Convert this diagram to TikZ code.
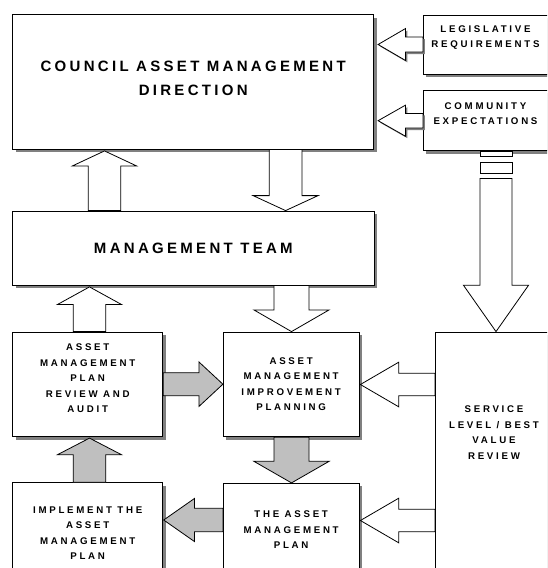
\documentclass[tikz,border=0pt]{standalone}
\usepackage{fontspec}
\newfontfamily\bigfont[LetterSpace=22]{Liberation Sans Bold}
\newfontfamily\smallfont[LetterSpace=28]{Liberation Sans Bold}
\usetikzlibrary{calc,shadows}

\tikzset{
  box/.style={draw=black, line width=0.8pt, fill=white, inner sep=0pt,
    drop shadow={shadow xshift=3pt, shadow yshift=-3pt, fill=black!50, opacity=1}},
  bigtext/.style={font=\bigfont\fontsize{15}{24}\selectfont, align=center, inner sep=0pt},
  smalltext/.style={font=\smallfont\fontsize{9.7}{15.5}\selectfont, align=center, inner sep=0pt},
  openarrow/.style={draw=black, line width=0.8pt, fill=white, line join=miter},
  grayarrow/.style={draw=black, line width=0.8pt, fill=black!25, line join=miter},
  shadarrow/.style={openarrow, drop shadow={shadow xshift=2pt, shadow yshift=-2pt, fill=black!50, opacity=1}},
}

% style, tail, tip, half shaft width, half head width, head length
\newcommand\blockarrow[6]{%
  \coordinate (bahead) at ($(#3)!#6!(#2)$);
  \path[#1] ($(#2)!#4!90:(#3)$) -- ($(bahead)!#4!90:(#3)$) -- ($(bahead)!#5!90:(#3)$)
    -- (#3) -- ($(bahead)!#5!-90:(#3)$) -- ($(bahead)!#4!-90:(#3)$) -- ($(#2)!#4!-90:(#3)$) -- cycle;}

\begin{document}
\begin{tikzpicture}[x=1pt, y=-1pt]
\useasboundingbox (0,0) rectangle (547,568);
\clip (0,0) rectangle (547,568);

% boxes
\node[box, minimum width=361pt, minimum height=134.3pt] (council) at (193.2,81.85) {};
\node[bigtext] (counciltxt) at (193.2,78) {COUNCIL ASSET MANAGEMENT\\DIRECTION};

\node[box, minimum width=125.2pt, minimum height=59pt] (leg) at (485.9,44.5) {};
\node[smalltext] (legtxt) at (485.5,37.5) {LEGISLATIVE\\REQUIREMENTS};

\node[box, minimum width=125.2pt, minimum height=60.5pt] (comm) at (485.9,120.25) {};
\node[smalltext] (commtxt) at (485.5,113.5) {COMMUNITY\\EXPECTATIONS};

\node[box, bigtext, minimum width=361.3pt, minimum height=74pt] (mt) at (193.35,248) {MANAGEMENT TEAM};

\node[box, minimum width=150pt, minimum height=104.7pt] (ampra) at (87.7,384.35) {};
\node[smalltext] (ampratxt) at (87.7,378.3) {ASSET\\MANAGEMENT\\PLAN\\REVIEW AND\\AUDIT};

\node[box, smalltext, minimum width=135.7pt, minimum height=104.7pt] (amip) at (291.15,384.35)
  {ASSET\\MANAGEMENT\\IMPROVEMENT\\PLANNING};

\node[box, smalltext, minimum width=150pt, minimum height=101.3pt] (impl) at (87.7,533.35)
  {IMPLEMENT THE\\ASSET\\MANAGEMENT\\PLAN};

\node[box, smalltext, minimum width=135.7pt, minimum height=92.7pt] (tamp) at (291.15,529.65)
  {THE ASSET\\MANAGEMENT\\PLAN};

\node[box, minimum width=124.7pt, minimum height=268pt] (serv) at (497.65,466) {};
\node[smalltext] (servtxt) at (494,432.7) {SERVICE\\LEVEL / BEST\\VALUE\\REVIEW};

% arrow end points
\coordinate (a1s) at (mt.north -| 104.5,0);
\coordinate (a1e) at ($(council.south -| 104.5,0)+(0,1.5)$);
\coordinate (a2s) at (council.south -| 285.6,0);
\coordinate (a2e) at (mt.north -| 285.6,0);
\coordinate (a3s) at (mt.south -| 291.5,0);
\coordinate (a3e) at (amip.north -| 291.5,0);
\coordinate (a4s) at (ampra.north -| 89.5,0);
\coordinate (a4e) at ($(mt.south -| 89.5,0)+(0,1.5)$);
\coordinate (a5s) at (ampra.east |- 0,384.2);
\coordinate (a5e) at (amip.west |- 0,384.2);
\coordinate (a6s) at (impl.north -| 89.5,0);
\coordinate (a6e) at ($(ampra.south -| 89.5,0)+(0,1)$);
\coordinate (a7s) at (amip.south -| 291.5,0);
\coordinate (a7e) at (tamp.north -| 291.5,0);
\coordinate (a8s) at (tamp.west |- 0,520);
\coordinate (a8e) at ($(impl.east |- 0,520)+(0.6,0)$);
\coordinate (a9s) at (serv.west |- 0,384.5);
\coordinate (a9e) at ($(amip.east |- 0,384.5)+(1,0)$);
\coordinate (a10s) at (serv.west |- 0,520.5);
\coordinate (a10e) at ($(tamp.east |- 0,520.5)+(1,0)$);
\coordinate (a11s) at (leg.west |- 0,44.5);
\coordinate (a11e) at ($(council.east |- 0,44.5)+(4,0)$);
\coordinate (a12s) at (comm.west |- 0,120.7);
\coordinate (a12e) at ($(council.east |- 0,120.7)+(4,0)$);
\coordinate (s0) at (comm.south -| 496,0);
\coordinate (a13s) at ($(s0)+(0,27.5)$);
\coordinate (a13e) at (serv.north -| 496,0);

% arrows
\blockarrow{openarrow}{a1s}{a1e}{16.2pt}{32pt}{15pt}
\blockarrow{openarrow}{a2s}{a2e}{16.3pt}{32.5pt}{15pt}
\blockarrow{openarrow}{a3s}{a3e}{17.5pt}{37.6pt}{21.7pt}
\blockarrow{openarrow}{a4s}{a4e}{16.3pt}{32pt}{17.6pt}
\blockarrow{grayarrow}{a5s}{a5e}{11.5pt}{22.3pt}{24pt}
\blockarrow{grayarrow}{a6s}{a6e}{16.3pt}{32pt}{16.6pt}
\blockarrow{grayarrow}{a7s}{a7e}{17.5pt}{37.6pt}{21.6pt}
\blockarrow{grayarrow}{a8s}{a8e}{11.7pt}{21.5pt}{30.7pt}
\blockarrow{openarrow}{a9s}{a9e}{11.2pt}{22.3pt}{38.3pt}
\blockarrow{openarrow}{a10s}{a10e}{11.2pt}{22.3pt}{38.3pt}
\blockarrow{shadarrow}{a11s}{a11e}{7.5pt}{15.9pt}{27.3pt}
\blockarrow{shadarrow}{a12s}{a12e}{7.3pt}{15.5pt}{27.3pt}

% broken arrow from community expectations to service review
\draw[openarrow] ($(s0)+(-16,0.5)$) rectangle ($(s0)+(16,5.2)$);
\draw[openarrow] ($(s0)+(-16,11.2)$) rectangle ($(s0)+(16,22.5)$);
\blockarrow{openarrow}{a13s}{a13e}{16pt}{32.5pt}{46.3pt}
\end{tikzpicture}
\end{document}
